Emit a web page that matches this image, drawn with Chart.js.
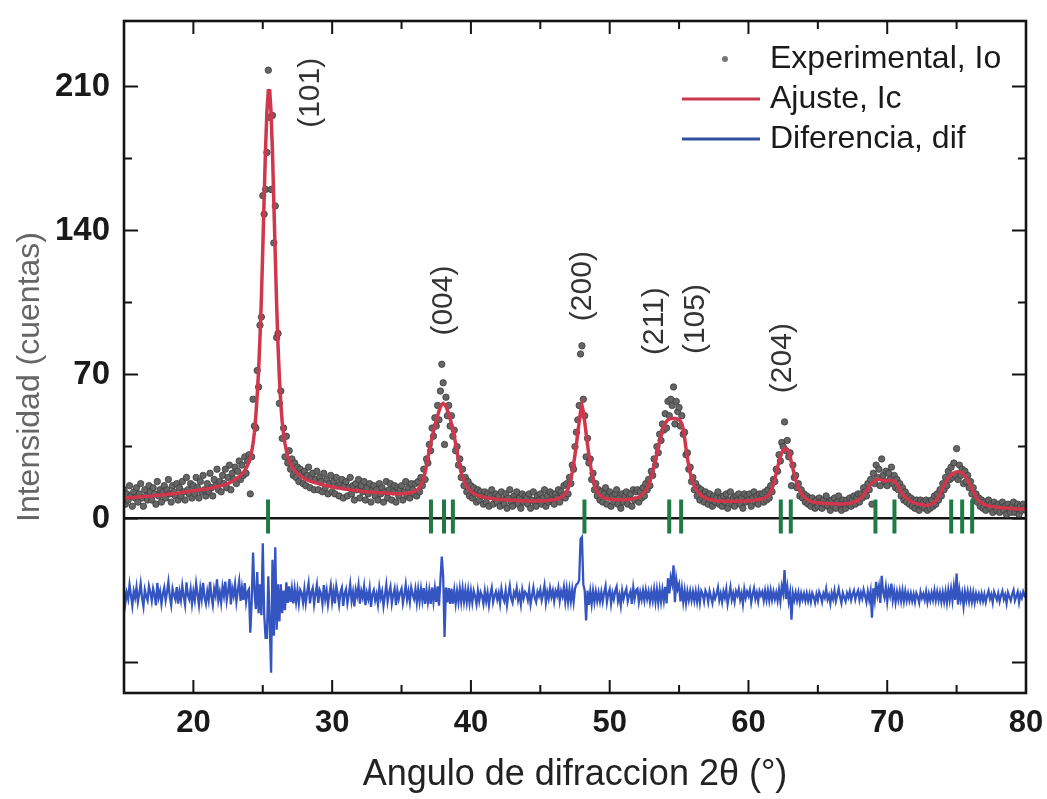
<!DOCTYPE html>
<html>
<head>
<meta charset="utf-8">
<script src="https://cdn.jsdelivr.net/npm/chart.js@4.4.0/dist/chart.umd.min.js"></script>
<style>
  html, body { margin: 0; padding: 0; background: #fff; }
  canvas { display: block; }
</style>
</head>
<body>
<canvas id="canvas" width="1047" height="799"></canvas>
<script>
// scan: 15.0 .. 80.0 deg, step 0.1
var START_ANGLE = 15.0;
var STEP = 0.1;

var experimentalIo = [
  14,7,12,9,16,11,6,13,10,15,
  8,12,17,10,6,14,11,9,16,13,
  9,15,12,7,18,11,14,8,13,16,
  10,14,19,12,8,16,13,11,17,9,
  15,11,18,13,9,20,14,12,17,10,
  16,12,20,15,10,18,13,21,14,11,
  17,13,22,15,11,19,16,24,14,18,
  13,21,17,24,15,20,26,14,22,19,
  25,17,23,28,19,26,21,30,22,28,
  31,12,30,58,45,44,72,64,94,98,
  157,148,160,178,218,195,160,196,134,152,
  88,90,56,62,39,44,30,40,27,33,
  24,29,21,27,20,25,18,24,22,17,
  23,16,21,25,15,20,22,14,19,23,
  14,20,18,13,22,15,19,12,17,21,
  13,18,12,20,16,11,17,19,10,16,
  18,11,15,20,12,16,9,17,14,19,
  10,16,13,18,9,15,12,17,8,14,
  16,11,14,9,17,12,15,8,13,18,
  10,14,17,9,13,16,8,15,11,14,
  16,9,13,18,11,15,10,17,14,12,
  17,11,18,13,20,16,24,19,29,27,
  36,33,44,40,49,45,55,48,62,75,
  66,36,59,50,55,45,50,40,43,33,
  35,26,29,20,24,16,20,13,18,11,
  16,10,15,12,8,14,9,13,11,7,
  13,8,12,6,11,14,7,10,12,8,
  11,6,13,9,7,12,5,10,14,8,
  6,11,9,13,7,10,5,12,8,11,
  10,7,12,5,9,13,8,6,11,9,
  12,7,10,14,6,11,8,13,9,12,
  7,12,10,14,8,13,11,16,10,17,
  12,20,17,26,24,35,42,48,55,80,
  84,58,50,30,39,27,29,19,22,14,
  17,11,14,9,13,8,12,15,7,11,
  13,6,11,8,12,14,7,10,5,12,
  8,11,13,7,10,12,6,14,9,13,
  14,8,13,10,15,11,17,14,19,16,
  23,21,29,26,35,32,41,38,46,43,
  51,44,57,50,58,55,64,46,57,52,
  54,45,50,41,42,31,32,24,25,18,
  20,14,17,11,15,9,14,12,8,13,
  11,7,12,9,6,11,8,10,13,7,
  10,6,11,8,12,5,9,13,7,10,
  6,11,9,12,7,10,5,12,8,11,
  9,12,6,10,13,8,11,7,12,10,
  12,8,13,9,14,10,16,13,19,18,
  24,23,31,28,37,35,47,33,38,30,
  32,16,26,20,21,15,17,11,14,10,
  12,8,11,7,10,6,10,8,5,9,
  6,10,8,5,9,7,11,6,8,4,
  9,6,10,5,8,11,7,4,9,7,
  5,9,7,10,6,9,11,7,10,12,
  8,12,10,15,13,11,17,14,19,7,
  22,17,26,20,24,16,29,21,18,23,
  16,22,19,25,17,21,15,19,14,17,
  11,15,9,13,8,11,7,10,6,9,
  5,9,7,4,9,6,8,5,9,4,
  8,5,9,6,11,7,12,9,14,11,
  17,14,20,16,23,19,25,20,27,21,
  34,19,26,21,24,17,23,18,21,15,
  18,12,15,9,12,8,10,6,9,5,
  8,4,7,9,5,7,3,8,6,4,
  7,3,6,8,4,6,2,7,5,3,
  6,8,3,5,7,2,6,4,7,5,
  4
];

var ajusteIc = [
  10.0,10.0,10.1,10.1,10.2,10.2,10.3,10.3,10.4,10.4,
  10.5,10.5,10.6,10.6,10.7,10.7,10.8,10.8,10.9,10.9,
  11.0,11.1,11.1,11.2,11.3,11.3,11.4,11.5,11.5,11.6,
  11.7,11.8,11.8,11.9,12.0,12.1,12.1,12.2,12.3,12.4,
  12.5,12.6,12.7,12.8,12.9,13.0,13.1,13.2,13.3,13.4,
  13.5,13.6,13.7,13.8,13.9,14.0,14.1,14.2,14.3,14.4,
  14.5,14.6,14.8,14.9,15.0,15.2,15.3,15.5,15.6,15.8,
  16.0,16.2,16.4,16.6,16.8,17.1,17.4,17.7,18.0,18.4,
  19.0,19.4,19.9,20.4,21.0,21.7,22.5,23.4,24.5,25.8,
  27.5,29.5,32.5,36.5,42,50,60,72,88,107,
  131,156,180,198,208,208,197,178,153,128,
  104,84,68,56,47,41,36.5,33,30,28,
  26.5,25.2,24.2,23.3,22.5,21.8,21.2,20.7,20.2,19.8,
  19.4,19.1,18.8,18.5,18.2,18.0,17.8,17.6,17.4,17.2,
  17.0,16.8,16.6,16.5,16.3,16.1,16.0,15.8,15.7,15.5,
  15.4,15.3,15.2,15.0,14.9,14.8,14.7,14.6,14.5,14.4,
  14.3,14.2,14.1,14.0,13.9,13.8,13.7,13.6,13.6,13.5,
  13.4,13.3,13.3,13.2,13.1,13.1,13.0,12.9,12.9,12.8,
  12.8,12.7,12.7,12.6,12.6,12.5,12.5,12.4,12.4,12.3,
  12.3,12.2,12.2,12.2,12.1,12.1,12.1,12.1,12.1,12.1,
  12.1,12.1,12.2,12.2,12.3,12.4,12.5,12.7,12.9,13.1,
  13.4,13.8,14.4,15.2,16.3,17.8,19.8,22.5,25.8,29.5,
  33,36.5,39.5,42.3,45,47.5,50,52.3,54.2,55.5,
  56,55.6,54.5,52.8,50.8,48.5,46,43.3,40,36.3,
  32.3,28.5,25.2,22.4,20.1,18.3,16.8,15.6,14.7,13.9,
  13.2,12.7,12.2,11.8,11.5,11.2,11.0,10.8,10.6,10.4,
  10.3,10.2,10.0,9.9,9.8,9.7,9.6,9.5,9.5,9.4,
  9.3,9.3,9.2,9.2,9.1,9.1,9.0,9.0,8.9,8.9,
  8.9,8.8,8.8,8.8,8.7,8.7,8.7,8.7,8.7,8.6,
  8.6,8.6,8.6,8.6,8.6,8.6,8.6,8.6,8.6,8.6,
  8.6,8.7,8.7,8.7,8.8,8.8,8.9,8.9,9.0,9.1,
  9.2,9.3,9.5,9.7,10.0,10.3,10.8,11.4,12.2,13.2,
  14.5,16.5,19.2,22.5,26.5,31,36,41.5,47,52,
  55,52,47,41.5,36,31,26.5,22.5,19.2,16.5,
  14.5,13.0,12.0,11.2,10.7,10.3,10.0,9.8,9.6,9.5,
  9.4,9.3,9.2,9.2,9.1,9.1,9.1,9.1,9.1,9.1,
  9.1,9.1,9.2,9.2,9.3,9.4,9.5,9.6,9.8,10.0,
  10.2,10.5,10.9,11.4,12.0,12.8,13.8,15.0,16.5,18.3,
  20.4,22.8,25.5,28.5,31.6,34.7,37.6,40.3,42.7,44.7,
  46.2,47.3,48.0,48.4,48.6,48.7,48.7,48.6,48.5,48.3,
  48.0,47.3,46.0,43.5,39.0,34.0,29.5,25.5,22.3,19.7,
  17.6,15.9,14.5,13.4,12.5,11.8,11.2,10.7,10.3,10.0,
  9.7,9.5,9.3,9.1,9.0,8.9,8.8,8.7,8.6,8.6,
  8.5,8.5,8.5,8.4,8.4,8.4,8.4,8.4,8.4,8.4,
  8.4,8.4,8.4,8.4,8.4,8.4,8.5,8.5,8.5,8.6,
  8.6,8.7,8.7,8.8,8.9,9.0,9.1,9.2,9.3,9.4,
  9.6,9.8,10.1,10.5,11.0,11.8,12.9,14.5,16.6,19.2,
  22.0,24.9,27.7,30.1,32.0,33.3,34.0,34.1,33.5,32.1,
  29.9,27.2,24.3,21.5,19.0,16.8,15.0,13.5,12.3,11.3,
  10.5,9.9,9.4,9.0,8.7,8.4,8.2,8.0,7.9,7.8,
  7.7,7.6,7.5,7.5,7.4,7.4,7.3,7.3,7.2,7.2,
  7.2,7.1,7.1,7.1,7.1,7.1,7.1,7.1,7.1,7.2,
  7.2,7.3,7.4,7.5,7.6,7.8,8.0,8.3,8.6,9.0,
  9.5,10.1,10.8,11.6,12.5,13.5,14.5,15.5,16.4,17.2,
  17.9,18.4,18.8,19.0,19.1,19.0,18.8,18.6,18.4,18.3,
  18.3,18.4,18.5,18.6,18.5,18.2,17.6,16.7,15.5,14.2,
  13.0,12.0,11.1,10.4,9.8,9.3,8.8,8.4,8.1,7.8,
  7.5,7.3,7.1,6.9,6.8,6.7,6.6,6.5,6.5,6.5,
  6.6,6.8,7.1,7.5,8.0,8.7,9.6,10.7,12.0,13.4,
  14.9,16.3,17.6,18.8,19.8,20.6,21.3,21.8,22.2,22.5,
  22.7,22.8,22.7,22.5,22.1,21.5,20.7,19.7,18.5,17.2,
  15.8,14.4,13.0,11.7,10.5,9.5,8.7,8.0,7.5,7.1,
  6.8,6.6,6.4,6.2,6.0,5.9,5.8,5.7,5.6,5.5,
  5.4,5.3,5.3,5.2,5.2,5.1,5.1,5.0,5.0,4.9,
  4.9,4.8,4.8,4.8,4.7,4.7,4.7,4.6,4.6,4.6,
  4.5
];

// Bragg reflection positions (green marks)
var braggPositions = [25.38, 37.12, 38.06, 38.70, 48.18, 54.29, 55.15, 62.33, 63.05, 69.15, 70.52, 74.61, 75.40, 76.12];

var peakLabels = ['(101)', '(004)', '(200)', '(211)', '(105)', '(204)'];
var xTickLabels = [20, 30, 40, 50, 60, 70, 80];
var yTickLabels = [-70, 0, 70, 140, 210];
var legendLabels = ['Experimental, Io', 'Ajuste, Ic', 'Diferencia, dif'];

var DIF_OFFSET = -38;
var FONT = "'Liberation Sans', Arial, Helvetica, sans-serif";

var angles = experimentalIo.map(function (v, i) { return +(START_ANGLE + i * STEP).toFixed(1); });
var ioPoints = experimentalIo.map(function (v, i) { return { x: angles[i], y: v }; });
var icPoints = ajusteIc.map(function (v, i) { return { x: angles[i], y: v }; });
var difPoints = experimentalIo.map(function (v, i) { return { x: angles[i], y: v - ajusteIc[i] + DIF_OFFSET }; });
var braggPoints = braggPositions.map(function (a) { return { x: a, y: 1 }; });

// where the hkl labels sit (angle, counts)
var labelAnchors = [[28.43, 207], [38.06, 106], [48.04, 113], [53.21, 96], [56.23, 97], [62.47, 78]];

var decor = {
  id: 'decor',
  afterDraw: function (chart) {
    var ctx = chart.ctx, a = chart.chartArea, xs = chart.scales.x, ys = chart.scales.y;
    ctx.save();
    ctx.strokeStyle = '#141414';
    ctx.lineWidth = 2;
    ctx.beginPath();
    [20, 25, 30, 35, 40, 45, 50, 55, 60, 65, 70, 75].forEach(function (v) {
      var px = xs.getPixelForValue(v), len = v % 10 === 0 ? 13 : 8;
      ctx.moveTo(px, a.bottom); ctx.lineTo(px, a.bottom - len);
      ctx.moveTo(px, a.top); ctx.lineTo(px, a.top + len);
    });
    [-70, 0, 35, 70, 105, 140, 175, 210].forEach(function (v) {
      var py = ys.getPixelForValue(v), len = v % 70 === 0 ? 14 : 8;
      ctx.moveTo(a.left, py); ctx.lineTo(a.left + len, py);
      ctx.moveTo(a.right, py); ctx.lineTo(a.right - len, py);
    });
    ctx.stroke();
    ctx.lineWidth = 2.6;
    ctx.strokeRect(a.left, a.top, a.right - a.left, a.bottom - a.top);

    // hkl labels
    ctx.fillStyle = '#333';
    ctx.font = '30px ' + FONT;
    ctx.textAlign = 'center';
    ctx.textBaseline = 'middle';
    peakLabels.forEach(function (t, i) {
      ctx.save();
      ctx.translate(xs.getPixelForValue(labelAnchors[i][0]), ys.getPixelForValue(labelAnchors[i][1]));
      ctx.rotate(-Math.PI / 2);
      ctx.fillText(t, 0, 0);
      ctx.restore();
    });

    // y title
    ctx.save();
    ctx.fillStyle = '#666';
    ctx.font = '32px ' + FONT;
    ctx.translate(30, 377);
    ctx.rotate(-Math.PI / 2);
    ctx.fillText('Intensidad (cuentas)', 0, 0);
    ctx.restore();

    // legend
    var lx = a.left + 646, ly = a.top + 38;
    ctx.font = '32px ' + FONT;
    ctx.textAlign = 'left';
    ctx.fillStyle = '#1a1a1a';
    legendLabels.forEach(function (t, i) { ctx.fillText(t, lx, ly + i * 40); });
    ctx.fillStyle = '#777';
    ctx.beginPath(); ctx.arc(lx - 45, ly, 3, 0, Math.PI * 2); ctx.fill();
    ctx.lineWidth = 3;
    ctx.strokeStyle = '#c9374c';
    ctx.beginPath(); ctx.moveTo(lx - 88, ly + 40); ctx.lineTo(lx - 10, ly + 40); ctx.stroke();
    ctx.strokeStyle = '#34509e';
    ctx.beginPath(); ctx.moveTo(lx - 88, ly + 80); ctx.lineTo(lx - 10, ly + 80); ctx.stroke();
    ctx.restore();
  }
};

window.onload = function () {
  var ctx = document.getElementById('canvas').getContext('2d');
  window.myChart = new Chart(ctx, {
    type: 'scatter',
    data: {
      datasets: [{
        label: 'Ajuste, Ic',
        type: 'line',
        data: icPoints,
        borderColor: '#d0364c',
        borderWidth: 3.5,
        pointRadius: 0,
        tension: 0,
        order: 0
      }, {
        label: 'Bragg',
        data: braggPoints,
        pointStyle: 'line',
        rotation: 90,
        pointRadius: 17,
        borderColor: '#1f7a46',
        borderWidth: 4,
        order: 1
      }, {
        label: 'Diferencia, dif',
        type: 'line',
        data: difPoints,
        borderColor: '#3454c2',
        borderWidth: 2.3,
        pointRadius: 0,
        tension: 0,
        order: 2
      }, {
        label: 'Experimental, Io',
        data: ioPoints,
        pointRadius: 3.2,
        backgroundColor: '#666666',
        borderColor: '#3c3c3c',
        borderWidth: 0.8,
        order: 3
      }]
    },
    options: {
      responsive: false,
      animation: false,
      devicePixelRatio: 1,
      layout: { padding: { left: 0, right: 18, top: 15, bottom: 0 } },
      plugins: { legend: { display: false }, tooltip: { enabled: false } },
      scales: {
        x: {
          type: 'linear',
          min: 15,
          max: 80,
          afterBuildTicks: function (s) { s.ticks = xTickLabels.map(function (v) { return { value: v }; }); },
          afterFit: function (s) { s.height = 106; s.paddingLeft = 0; s.paddingRight = 0; },
          grid: { display: false, drawTicks: false },
          border: { display: false },
          ticks: { font: { family: FONT, size: 31, weight: 'bold' }, color: '#1a1a1a', padding: 12, maxRotation: 0, autoSkip: false },
          title: { display: true, text: 'Angulo de difraccion 2θ (°)', font: { family: FONT, size: 36 }, color: '#222', padding: { top: 6, bottom: 2 } }
        },
        y: {
          min: -84.8,
          max: 241.9,
          afterBuildTicks: function (s) { s.ticks = yTickLabels.map(function (v) { return { value: v }; }); },
          afterFit: function (s) { s.width = 124; s.paddingTop = 0; s.paddingBottom = 0; },
          grid: {
            drawTicks: false,
            lineWidth: 2.4,
            color: function (c) { return c.tick && c.tick.value === 0 ? '#141414' : 'rgba(0,0,0,0)'; }
          },
          border: { display: false },
          ticks: {
            callback: function (v) { return v < 0 ? '' : v; },
            font: { family: FONT, size: 33, weight: 'bold' },
            color: '#1a1a1a',
            padding: 14
          }
        }
      }
    },
    plugins: [decor]
  });
};
</script>
</body>
</html>
